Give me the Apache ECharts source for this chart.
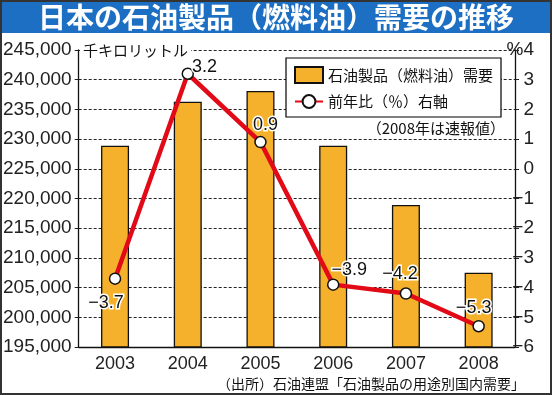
<!DOCTYPE html>
<html><head><meta charset="utf-8">
<script src="https://cdn.jsdelivr.net/npm/echarts@6/dist/echarts.min.js"></script>
<style>html,body{margin:0;padding:0;background:#fff}#c{width:552px;height:395px}</style>
</head><body><div id="c"></div>
<script>
const years = ['2003','2004','2005','2006','2007','2008'];
const demand = [228900, 236300, 238100, 228900, 218900, 207500];
const yoy = [-3.7, 3.2, 0.9, -3.9, -4.2, -5.3];
const leftTicks = {min:195000, max:245000, interval:5000};
const rightTicks = {min:-6, max:4, interval:1};
const labelPos = [
  {position:'bottom', offset:[-9,4]},
  {position:'right', offset:[-7,-7]},
  {position:'top', offset:[5,3]},
  {position:'top', offset:[16,6]},
  {position:'top', offset:[-6,1]},
  {position:'top', offset:[-5,2]}
];
const JP = '"Noto Sans CJK JP", sans-serif';
const NUM = '"Liberation Sans Narrow", "Liberation Sans", sans-serif';
const minus = v => String(v).replace('-', '\u2212');

const chart = echarts.init(document.getElementById('c'));
chart.setOption({
  animation:false,
  backgroundColor:'#fff',
  grid:{left:70, right:37, top:50, bottom:48},
  legend:{
    left:286, top:58, orient:'vertical',
    backgroundColor:'#fff', borderColor:'#000', borderWidth:1.2,
    padding:[8,8,8,8], itemGap:10, itemWidth:28, itemHeight:16,
    textStyle:{fontFamily:JP, fontSize:15, color:'#111'},
    data:[{name:'石油製品（燃料油）需要', icon:'rect'}, {name:'前年比（％）右軸'}]
  },
  xAxis:{
    type:'category', data:years,
    axisLine:{onZero:false, lineStyle:{color:'#111', width:1.3}},
    axisTick:{show:false},
    axisLabel:{fontFamily:'"Liberation Sans", sans-serif', fontSize:18, color:'#222', margin:8}
  },
  yAxis:[{
    type:'value', min:leftTicks.min, max:leftTicks.max, interval:leftTicks.interval,
    axisLine:{show:true, lineStyle:{color:'#111', width:1.3}},
    axisTick:{show:true, length:6, lineStyle:{color:'#222', type:'dashed'}},
    splitLine:{show:true, lineStyle:{color:'#222', type:[3,2], width:1}},
    axisLabel:{fontFamily:NUM, fontSize:19, color:'#222', margin:7,
      formatter:v=>v.toLocaleString('en-US')}
  },{
    type:'value', position:'right', min:rightTicks.min, max:rightTicks.max, interval:rightTicks.interval,
    axisLine:{show:true, lineStyle:{color:'#111', width:1.3}},
    axisTick:{show:true, length:4, lineStyle:{color:'#222', type:'dashed'}},
    splitLine:{show:false},
    axisLabel:{fontFamily:NUM, fontSize:19, color:'#222', margin:19, align:'right',
      formatter:v=> v===rightTicks.max ? '%'+v : minus(v)}
  }],
  series:[{
    name:'石油製品（燃料油）需要', type:'bar', data:demand, barWidth:28,
    itemStyle:{color:'#f5b12b', borderColor:'#111', borderWidth:1.3}
  },{
    name:'前年比（％）右軸', type:'line', yAxisIndex:1,
    data:yoy.map((v,i)=>({value:v, label:labelPos[i]})),
    lineStyle:{color:'#e20a16', width:4.5},
    itemStyle:{color:'#fff', borderColor:'#111', borderWidth:1.5},
    symbol:'circle', symbolSize:11, showAllSymbol:true,
    label:{show:true, fontFamily:NUM, fontSize:18, color:'#111',
      textBorderColor:'#fff', textBorderWidth:3, formatter:p=>minus(p.value)}
  }],
  graphic:[
    {type:'rect', shape:{x:0,y:0,width:552,height:33}, style:{fill:'#1c6fc2'}, z:10},
    {type:'text', x:276, y:17, z:11, style:{text:'日本の石油製品（燃料油）需要の推移', fill:'#fff',
      font:'bold 28px '+JP, textAlign:'center', textVerticalAlign:'middle'}},
    {type:'text', x:80, y:50, z:20, style:{text:'千キロリットル', fill:'#111', font:'15px '+JP,
      textAlign:'left', textVerticalAlign:'middle', backgroundColor:'#fff', padding:[0,3]}},
    {type:'text', x:505, y:128, z:20, style:{text:'（2008年は速報値）', fill:'#111', font:'15px '+JP,
      textAlign:'right', textVerticalAlign:'middle', backgroundColor:'#fff'}},
    {type:'text', x:525, y:384, z:20, style:{text:'（出所）石油連盟「石油製品の用途別国内需要」', fill:'#111', font:'14px '+JP,
      textAlign:'right', textVerticalAlign:'middle'}},
    {type:'rect', shape:{x:1,y:1,width:550,height:393}, style:{fill:'none', stroke:'#333', lineWidth:2}, z:30}
  ]
});
</script></body></html>
